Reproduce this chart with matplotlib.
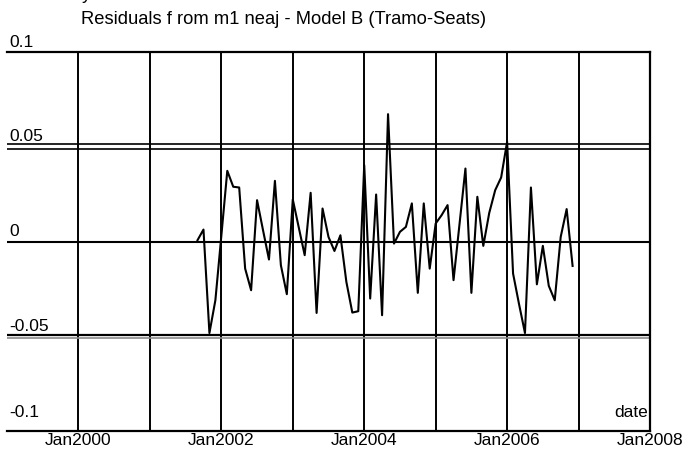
import matplotlib
matplotlib.use("Agg")
import matplotlib.pyplot as plt
import numpy as np

plt.rcParams["font.family"] = ["Liberation Sans", "DejaVu Sans"]

# Monthly residuals, Sep 2001 .. Dec 2006
start_year, start_month = 2001, 9
residuals = [
    0.0007, 0.0063, -0.0483, -0.0310,                      # 2001 Sep-Dec
    0.0030, 0.0373, 0.0289, 0.0285, -0.0143, -0.0257,       # 2002
    0.0218, 0.0060, -0.0095, 0.0320, -0.0125, -0.0278,
    0.0222, 0.0075, -0.0072, 0.0257, -0.0377, 0.0174,       # 2003
    0.0024, -0.0050, 0.0033, -0.0213, -0.0375, -0.0368,
    0.0403, -0.0301, 0.0248, -0.0389, 0.0672, -0.0011,      # 2004
    0.0051, 0.0077, 0.0201, -0.0271, 0.0201, -0.0143,
    0.0095, 0.0139, 0.0192, -0.0204, 0.0090, 0.0385,        # 2005
    -0.0271, 0.0236, -0.0023, 0.0151, 0.0271, 0.0338,
    0.0526, -0.0169, -0.0330, -0.0483, 0.0285, -0.0226,     # 2006
    -0.0023, -0.0234, -0.0310, 0.0024, 0.0171, -0.0129,
]

y_ticks = [0.1, 0.05, 0, -0.05, -0.1]
y_tick_labels = ["0.1", "0.05", "0", "-0.05", "-0.1"]
x_tick_years = [2000, 2002, 2004, 2006, 2008]
x_tick_labels = ["Jan2000", "Jan2002", "Jan2004", "Jan2006", "Jan2008"]
grid_years = list(range(2000, 2009))
upper_band = [0.0512, 0.0489]
lower_band = [-0.0493, -0.0508]

title = "Residuals f rom m1 neaj - Model B (Tramo-Seats)"
FS = 12.5

months = np.arange(len(residuals))
t = start_year + (start_month - 1 + months) / 12.0

fig = plt.figure(figsize=(6.88, 4.5), dpi=100)
ax = fig.add_axes([7 / 688, 19 / 450, 643 / 688, 379 / 450])
ax.set_xlim(1999.0, 2008.0)
ax.set_ylim(-0.1, 0.1)

ax.spines["left"].set_visible(False)
for s in ["top", "right", "bottom"]:
    ax.spines[s].set_linewidth(1.6)

# vertical grid at every January
for yr in grid_years:
    ax.axvline(yr, color="black", lw=1.4, zorder=1)
# zero line
ax.axhline(0, color="black", lw=1.5, zorder=1)
# double lines around +-0.05
ax.axhline(upper_band[0], color="black", lw=1.2, zorder=1)
ax.axhline(upper_band[1], color="black", lw=1.2, zorder=1)
ax.axhline(lower_band[0], color="black", lw=1.6, zorder=1)
ax.axhline(lower_band[1], color="#8a8a8a", lw=1.2, zorder=1)

ax.plot(t, residuals, color="black", lw=1.5, zorder=3)

ax.set_xticks(x_tick_years)
ax.set_xticklabels(x_tick_labels, fontsize=FS)
ax.tick_params(axis="x", length=0, pad=1.5)
ax.set_yticks([])

for v, lab in zip(y_ticks, y_tick_labels):
    off = 0.0056 if v == -0.1 else 0.0012
    ax.text(1999.03, v + off, lab, fontsize=FS, va="bottom", ha="left",
            clip_on=False)

ax.text(2007.97, -0.1 + 0.0056, "date", fontsize=FS, ha="right", va="bottom")

fig.text(81 / 688, 1 - 20 / 450, title, fontsize=13.2, ha="left", va="center")
fig.text(82 / 688, 1 + 1 / 450, "y", fontsize=13.2, ha="left", va="baseline")

fig.savefig("out.png", dpi=100)
